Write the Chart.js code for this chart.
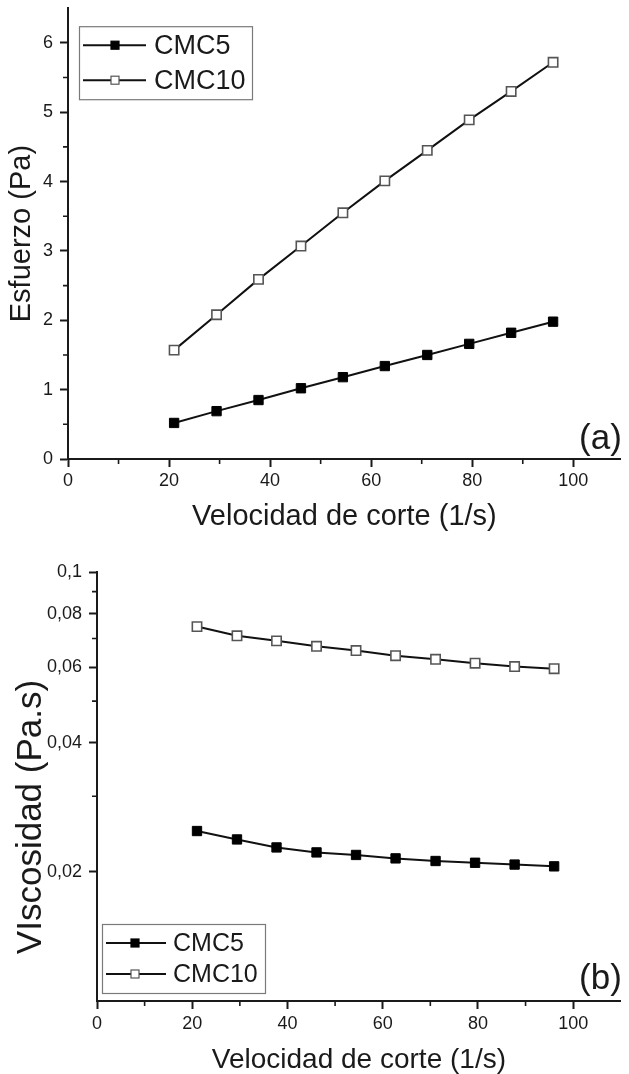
<!DOCTYPE html>
<html>
<head>
<meta charset="utf-8">
<script src="https://cdn.jsdelivr.net/npm/chart.js@4.4.1/dist/chart.umd.min.js"></script>
<style>
html,body{margin:0;padding:0;background:#fff;}
#wrap{position:relative;width:629px;height:1074px;overflow:hidden;}
.panel{position:absolute;left:0;width:629px;}
canvas{display:block;}
</style>
</head>
<body>
<div id="wrap">
  <div class="panel" style="top:0;height:540px"><canvas id="c1" width="629" height="540"></canvas></div>
  <div class="panel" style="top:540px;height:534px"><canvas id="c2" width="629" height="534"></canvas></div>
</div>
<script>
// ---------- data ----------
const seriesNames = ['CMC5', 'CMC10'];
const shearRate = [21.0, 29.4, 37.7, 46.1, 54.4, 62.7, 71.1, 79.4, 87.7, 96.0];
const stressCMC5 = [0.52, 0.69, 0.85, 1.02, 1.18, 1.34, 1.50, 1.66, 1.82, 1.98];
const stressCMC10 = [1.57, 2.08, 2.59, 3.07, 3.55, 4.01, 4.45, 4.89, 5.30, 5.72];
const viscCMC5 = [0.0249, 0.0238, 0.0228, 0.0222, 0.0219, 0.0215, 0.0212, 0.0210, 0.0208, 0.0206];
const viscCMC10 = [0.0746, 0.0710, 0.0691, 0.0671, 0.0656, 0.0638, 0.0626, 0.0613, 0.0602, 0.0595];
const xTicks = [0, 20, 40, 60, 80, 100];
const xMinorTicks = [10, 30, 50, 70, 90];
const stressTicks = [0, 1, 2, 3, 4, 5, 6];
const stressMinorTicks = [0.5, 1.5, 2.5, 3.5, 4.5, 5.5];
const viscTicks = [0.02, 0.04, 0.06, 0.08, 0.1];
const viscMinorTicks = [0.03, 0.05, 0.07, 0.09];

// ---------- style ----------
const FONT = "'Liberation Sans', Arial, sans-serif";
const INK = '#1a1a1a';

const pts = (xs, ys) => xs.map((x, i) => ({x: x, y: ys[i]}));

function makeDatasets(a, b) {
  return [
    {label: seriesNames[0], data: a, borderColor: '#111', borderWidth: 2, tension: 0,
     pointStyle: 'rect', pointRadius: 6.6, pointBackgroundColor: '#000', pointBorderColor: '#000', pointBorderWidth: 1},
    {label: seriesNames[1], data: b, borderColor: '#111', borderWidth: 2, tension: 0,
     pointStyle: 'rect', pointRadius: 6.6, pointBackgroundColor: '#fff', pointBorderColor: '#555', pointBorderWidth: 1.6}
  ];
}

const decor = {
  id: 'decor',
  afterDraw(chart, args, o) {
    const ctx = chart.ctx;
    const {left, top, right, bottom} = chart.chartArea;
    const xs = chart.scales.x, ys = chart.scales.y;
    ctx.save();
    // minor ticks
    ctx.strokeStyle = INK; ctx.lineWidth = 1.6;
    ctx.beginPath();
    o.minorX.forEach(v => { const p = xs.getPixelForValue(v); ctx.moveTo(p, bottom); ctx.lineTo(p, bottom + 5); });
    o.minorY.forEach(v => { const p = ys.getPixelForValue(v); ctx.moveTo(left, p); ctx.lineTo(left - 5, p); });
    ctx.stroke();
    // legend box
    const L = o.legend;
    const bx = left + L.dx;
    const by = L.anchor === 'top' ? top + L.dy : bottom - L.dy - L.h;
    ctx.strokeStyle = '#7a7a7a'; ctx.lineWidth = 1.2;
    ctx.strokeRect(bx + 0.5, by + 0.5, L.w, L.h);
    chart.data.datasets.forEach((ds, i) => {
      const cy = by + L.rows[i];
      ctx.strokeStyle = '#111'; ctx.lineWidth = 2;
      ctx.beginPath(); ctx.moveTo(bx + L.line0, cy); ctx.lineTo(bx + L.line1, cy); ctx.stroke();
      const m = L.marker, mx = bx + L.markerX;
      ctx.fillStyle = ds.pointBackgroundColor;
      ctx.fillRect(mx - m / 2, cy - m / 2, m, m);
      ctx.strokeStyle = ds.pointBorderColor; ctx.lineWidth = 1.2;
      ctx.strokeRect(mx - m / 2, cy - m / 2, m, m);
      ctx.fillStyle = INK; ctx.font = L.font;
      ctx.textAlign = 'left'; ctx.textBaseline = 'middle';
      ctx.fillText(ds.label, bx + L.textX, cy + 1);
    });
    // panel label
    ctx.fillStyle = INK; ctx.font = o.panel.font;
    ctx.textAlign = 'right'; ctx.textBaseline = 'alphabetic';
    ctx.fillText(o.panel.text, right + o.panel.dx, bottom - o.panel.dy);
    // optional free y title
    if (o.yTitle) {
      ctx.translate(o.yTitle.x, o.yTitle.y);
      ctx.rotate(-Math.PI / 2);
      ctx.font = o.yTitle.font; ctx.textAlign = 'center'; ctx.textBaseline = 'middle';
      ctx.fillText(o.yTitle.text, 0, 0);
    }
    ctx.restore();
  }
};

const axisBorder = {display: true, color: INK, width: 2};
const axisGrid = {display: true, drawOnChartArea: false, drawTicks: true, tickLength: 8, tickWidth: 2, tickColor: INK};
const tickFont = {family: FONT, size: 18};
const fitY = w => s => { s.width = w; s.paddingTop = 0; s.paddingBottom = 0; };
const fitX = h => s => { s.height = h; s.paddingLeft = 0; s.paddingRight = 0; };

// ---------- chart (a) ----------
new Chart(document.getElementById('c1'), {
  type: 'line',
  data: {datasets: makeDatasets(pts(shearRate, stressCMC5), pts(shearRate, stressCMC10))},
  options: {
    responsive: false, animation: false, devicePixelRatio: 1,
    layout: {padding: {top: 6, right: 1, left: 0, bottom: 0}},
    plugins: {
      legend: {display: false}, tooltip: {enabled: false},
      decor: {
        minorX: xMinorTicks, minorY: stressMinorTicks,
        legend: {anchor: 'top', dx: 11, dy: 18, w: 173, h: 73, rows: [19, 54], line0: 4, line1: 67, markerX: 36, marker: 8, textX: 75, font: '27px ' + FONT},
        panel: {text: '(a)', font: '35px ' + FONT, dx: 1, dy: 10}
      }
    },
    scales: {
      x: {
        type: 'linear', min: 0, max: 109.4,
        afterBuildTicks: s => { s.ticks = xTicks.map(v => ({value: v})); },
        afterFit: fitX(81),
        border: axisBorder, grid: axisGrid,
        ticks: {font: tickFont, color: INK, padding: 3, maxRotation: 0, autoSkip: false},
        title: {display: true, text: 'Velocidad de corte (1/s)', color: INK,
                font: {family: FONT, size: 29, lineHeight: 1.2}, padding: {top: 0, bottom: 6}}
      },
      y: {
        type: 'linear', min: 0, max: 6.5,
        afterBuildTicks: s => { s.ticks = stressTicks.map(v => ({value: v})); },
        afterFit: fitY(68),
        border: axisBorder, grid: axisGrid,
        ticks: {font: tickFont, color: INK, padding: 7},
        title: {display: true, text: 'Esfuerzo (Pa)', color: INK,
                font: {family: FONT, size: 29, lineHeight: 1.2}, padding: {top: 5, bottom: 0}}
      }
    }
  },
  plugins: [decor]
});

// ---------- chart (b) ----------
new Chart(document.getElementById('c2'), {
  type: 'line',
  data: {datasets: makeDatasets(pts(shearRate, viscCMC5), pts(shearRate, viscCMC10))},
  options: {
    responsive: false, animation: false, devicePixelRatio: 1,
    layout: {padding: {top: 32, right: 1, left: 0, bottom: 0}},
    plugins: {
      legend: {display: false}, tooltip: {enabled: false},
      decor: {
        minorX: xMinorTicks, minorY: viscMinorTicks,
        legend: {anchor: 'bottom', dx: 5, dy: 8, w: 163, h: 69, rows: [19, 50], line0: 4, line1: 64, markerX: 33, marker: 8, textX: 71, font: '25px ' + FONT},
        panel: {text: '(b)', font: '35px ' + FONT, dx: 1, dy: 12},
        yTitle: {text: 'VIscosidad (Pa.s)', font: '35px ' + FONT, x: 31, y: 277}
      }
    },
    scales: {
      x: {
        type: 'linear', min: 0, max: 110,
        afterBuildTicks: s => { s.ticks = xTicks.map(v => ({value: v})); },
        afterFit: fitX(73),
        border: axisBorder, grid: axisGrid,
        ticks: {font: tickFont, color: INK, padding: 4, maxRotation: 0, autoSkip: false},
        title: {display: true, text: 'Velocidad de corte (1/s)', color: INK,
                font: {family: FONT, size: 28, lineHeight: 1}, padding: {top: 0, bottom: 0}}
      },
      y: {
        type: 'logarithmic', min: 0.01, max: 0.1,
        afterBuildTicks: s => { s.ticks = viscTicks.map(v => ({value: v})); },
        afterFit: fitY(97),
        border: axisBorder, grid: axisGrid,
        ticks: {font: tickFont, color: INK, padding: 7,
                callback: v => String(v).replace('.', ',')}
      }
    }
  },
  plugins: [decor]
});
</script>
</body>
</html>
